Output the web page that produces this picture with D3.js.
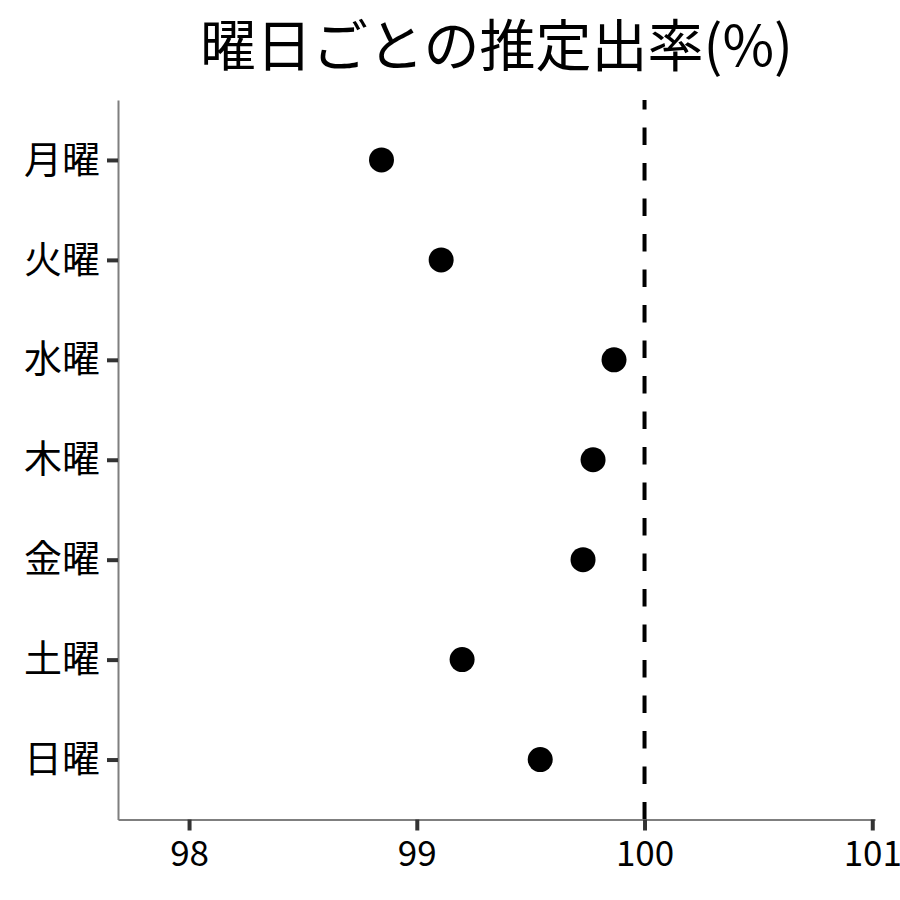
<!DOCTYPE html>
<html><head><meta charset="utf-8">
<script src="https://cdn.jsdelivr.net/npm/d3@7"></script>
<style>body{margin:0;background:#fff}</style>
</head><body>
<script>
const days = ["月曜","火曜","水曜","木曜","金曜","土曜","日曜"];
const rates = [98.845, 99.107, 99.866, 99.774, 99.730, 99.199, 99.542];
const xTicks = [98, 99, 100, 101];
const refValue = 100;
const titleText = "曜日ごとの推定出率(%)";

(function () {
const W = 900, H = 900;
const font = "'Noto Sans CJK JP', 'Noto Sans', sans-serif";
const svg = d3.select("body").append("svg").attr("width", W).attr("height", H)
  .style("background", "#fff");

const pLeft = 118, pRight = 875, pTop = 100, pBottom = 819.5;
const x = d3.scaleLinear().domain([97.688, 101.012]).range([pLeft, pRight]);
const y = d3.scalePoint().domain(days).range([pTop, pBottom]).padding(0.6);

// ref line
svg.append("line")
  .attr("x1", x(refValue)).attr("x2", x(refValue))
  .attr("y1", pBottom).attr("y2", pTop)
  .attr("stroke", "#000").attr("stroke-width", 4)
  .attr("stroke-dasharray", "17.5,18");

// axes
const xAxis = svg.append("g").attr("transform", `translate(0,${pBottom})`)
  .call(d3.axisBottom(x).tickValues(xTicks).tickFormat(d3.format("d"))
    .tickSize(11).tickPadding(11).tickSizeOuter(0));
xAxis.select(".domain").attr("stroke", "#7f7f7f").attr("stroke-width", 2);
xAxis.selectAll(".tick line").attr("stroke", "#333").attr("stroke-width", 4);
xAxis.selectAll(".tick text").attr("fill", "#000").style("font-family", font).style("font-size", "35px");

const yAxis = svg.append("g").attr("transform", `translate(${pLeft},0)`)
  .call(d3.axisLeft(y).tickSize(11).tickPadding(7).tickSizeOuter(0));
yAxis.select(".domain").attr("stroke", "#7f7f7f").attr("stroke-width", 2);
yAxis.selectAll(".tick line").attr("stroke", "#333").attr("stroke-width", 4);
yAxis.selectAll(".tick text").attr("fill", "#000").style("font-family", font).style("font-size", "38px");

// points
svg.append("g").selectAll("circle").data(days).join("circle")
  .attr("cx", (d, i) => x(rates[i]))
  .attr("cy", d => y(d))
  .attr("r", 12.5)
  .attr("fill", "#000");

// title
svg.append("text").attr("x", (pLeft + pRight) / 2).attr("y", 66)
  .attr("text-anchor", "middle")
  .style("font-family", font).style("font-size", "56px").attr("fill", "#000")
  .text(titleText);
})();
</script>
</body></html>
